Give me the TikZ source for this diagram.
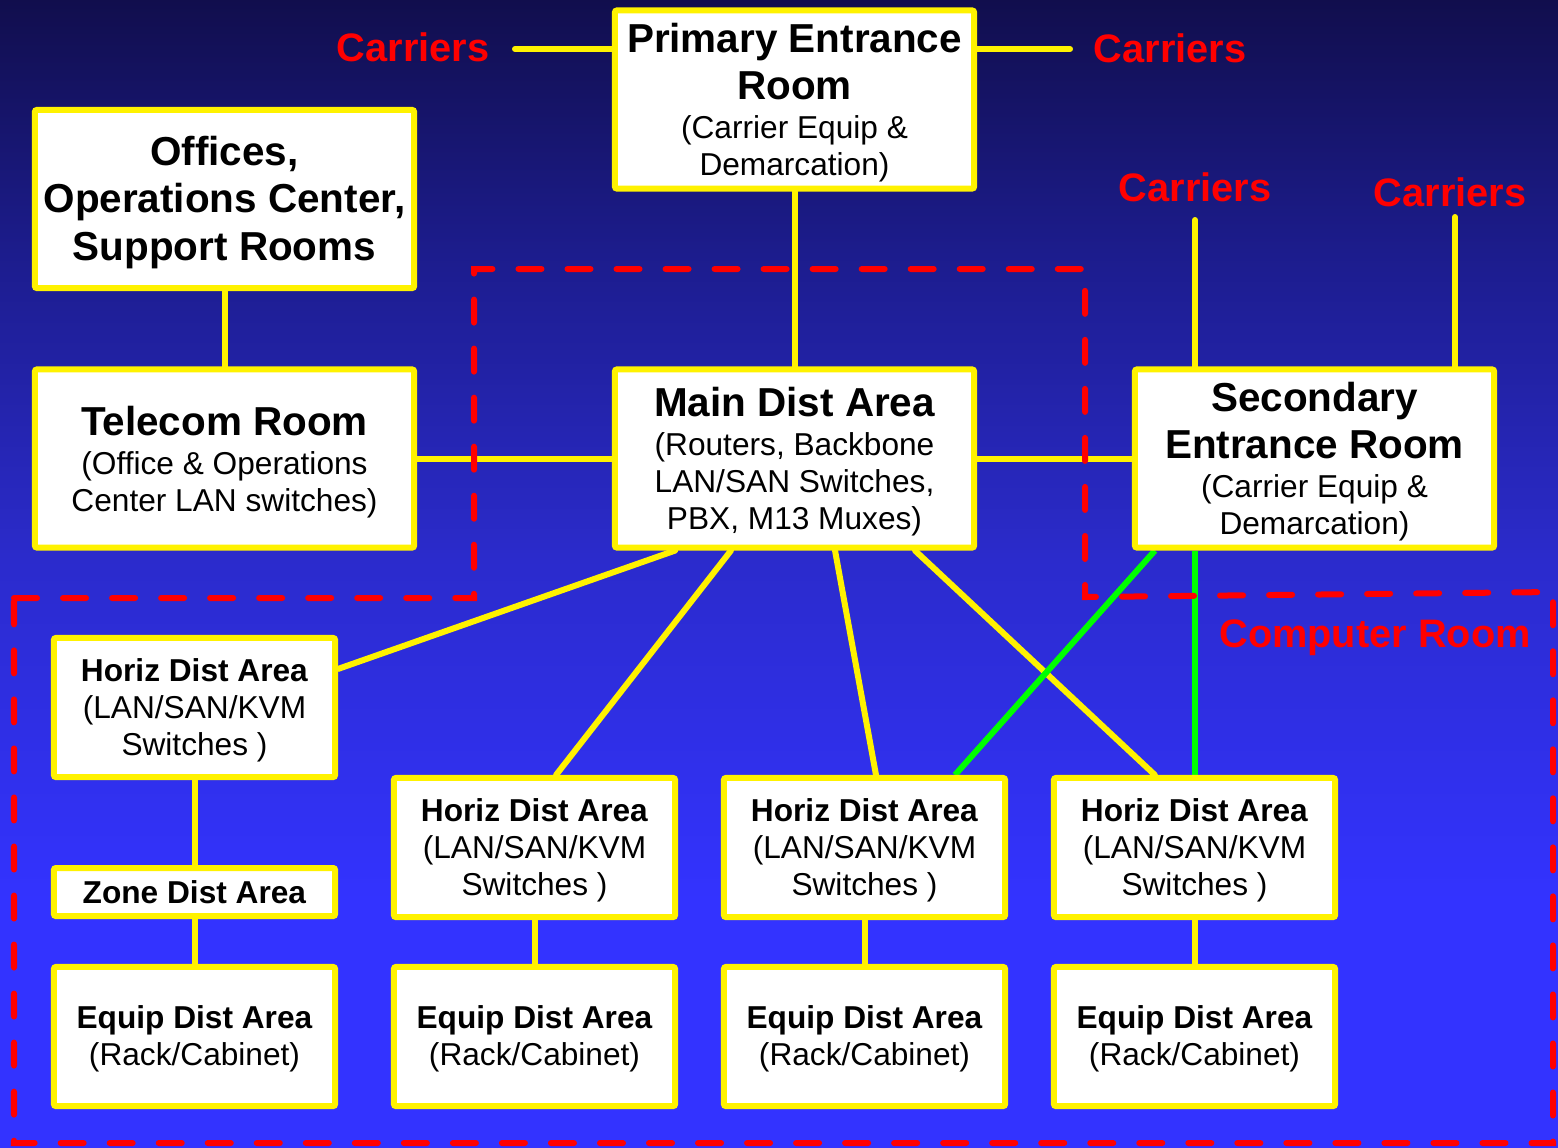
\documentclass[tikz,border=0pt]{standalone}
\usepackage{fontspec}
\setmainfont{Liberation Sans}
\usetikzlibrary{calc,backgrounds}

\definecolor{bgtop}{RGB}{17,14,77}
\definecolor{bgupper}{RGB}{28,28,140}
\definecolor{bgmid}{RGB}{43,43,204}
\definecolor{bgbot}{RGB}{51,51,255}
\pgfdeclareverticalshading{roomshade}{100bp}{color(0bp)=(bgbot); color(25bp)=(bgbot); color(35.8bp)=(bgbot); color(50.6bp)=(bgmid); color(64.1bp)=(bgupper); color(75bp)=(bgtop); color(100bp)=(bgtop)}

\newcommand{\titlef}{\fontsize{11.5}{13.7}\selectfont\bfseries}
\newcommand{\subf}{\fontsize{9}{10.5}\selectfont}
\newcommand{\carrf}{\fontsize{11.3}{13}\selectfont\bfseries}
\newcommand{\topstrut}{\rule{0pt}{.88em}}

\begin{document}
\begin{tikzpicture}[x=0.01cm, y=-0.01cm]
			\tikzstyle{area} = [draw=yellow, fill=white, line width=0.06cm, rounded corners=0.02cm, align=center, inner sep=0pt, font=\subf]
			\tikzstyle{big} = [area, minimum width=3.59cm, minimum height=1.78cm]
			\tikzstyle{wide} = [area, minimum width=3.79cm, minimum height=1.78cm]
			\tikzstyle{small} = [area, minimum width=2.81cm, minimum height=1.39cm]
			\tikzstyle{carrier} = [text=red, font=\carrf, inner sep=0pt]
			\tikzstyle{link} = [yellow, line width=0.06cm, line cap=round]
			\tikzstyle{glink} = [green, line width=0.06cm]
			\tikzstyle{zone} = [red, line width=0.06cm, dash pattern=on 0.23cm off 0.26cm, line cap=round]

			\useasboundingbox (0,0) rectangle (1558,1147);

			% rooms
			\path
			node[big] (per) at (794.5,99.5) {{\titlef\topstrut Primary Entrance}\\[3pt]{\titlef Room}\\[0.6pt](Carrier Equip \&\\Demarcation)}
			node[wide] (off) at (224.5,199) {{\titlef\topstrut Offices,}\\[3pt]{\titlef Operations Center,}\\[3pt]{\titlef Support Rooms}}
			node[wide] (tel) at (224.5,458.5) {{\titlef\topstrut Telecom Room}\\[0.6pt](Office \& Operations\\Center LAN switches)}
			node[big] (mda) at (794.5,458.5) {{\titlef\topstrut Main Dist Area}\\[0.6pt](Routers, Backbone\\LAN/SAN Switches,\\PBX, M13 Muxes)}
			node[big] (ser) at (1314.5,458.5) {{\titlef\topstrut Secondary}\\[3pt]{\titlef Entrance Room}\\[0.6pt](Carrier Equip \&\\Demarcation)}

			node[small] (hda1) at (194.5,707.5) {\textbf{\topstrut Horiz Dist Area}\\(LAN/SAN/KVM\\Switches )}
			node[area, minimum width=2.81cm, minimum height=0.48cm] (zda) at (194.5,892) {\textbf{Zone Dist Area}}
			node[small] (hda2) at (534.5,847.5) {\textbf{\topstrut Horiz Dist Area}\\(LAN/SAN/KVM\\Switches )}
			node[small] (hda3) at (864.5,847.5) {\textbf{\topstrut Horiz Dist Area}\\(LAN/SAN/KVM\\Switches )}
			node[small] (hda4) at (1194.5,847.5) {\textbf{\topstrut Horiz Dist Area}\\(LAN/SAN/KVM\\Switches )}

			node[small] (eda1) at (194.5,1036.5) {\textbf{\topstrut Equip Dist Area}\\(Rack/Cabinet)}
			node[small] (eda2) at (534.5,1036.5) {\textbf{\topstrut Equip Dist Area}\\(Rack/Cabinet)}
			node[small] (eda3) at (864.5,1036.5) {\textbf{\topstrut Equip Dist Area}\\(Rack/Cabinet)}
			node[small] (eda4) at (1194.5,1036.5) {\textbf{\topstrut Equip Dist Area}\\(Rack/Cabinet)}

			node[carrier] (carl) at (413,47) {Carriers}
			node[carrier] (carr) at (1170,48) {Carriers}
			node[carrier] (car3) at (1195,187) {Carriers}
			node[carrier] (car4) at (1450,192) {Carriers}
			node[carrier, anchor=base] (comp) at (1375,647) {Computer Room}
			;

			\coordinate (cl) at (515,49);
			\coordinate (cr) at (1070,49);
			\coordinate (c3) at (1195,220);
			\coordinate (c4) at (1455,217);

			\begin{scope}[on background layer]
			\shade[shading=roomshade] (0,0) rectangle (1558,1147);

			\path[link]
			(cl) edge (cl -| per.west)
			(cr) edge (cr -| per.east)
			(c3) edge (c3 |- ser.north)
			(c4) edge (c4 |- ser.north)

			(per.south) edge (mda.north)
			(off.south) edge (tel.north)
			(tel.east) edge (mda.west)
			(mda.east) edge (ser.west)

			($(mda.south west)!.173!(mda.south east)$) edge ($(hda1.north east)!.234!(hda1.south east)$)
			($(mda.south west)!.326!(mda.south east)$) edge ($(hda2.north west)!.575!(hda2.north east)$)
			($(mda.south west)!.611!(mda.south east)$) edge ($(hda3.north west)!.54!(hda3.north east)$)
			($(mda.south west)!.83!(mda.south east)$) edge ($(hda4.north west)!.362!(hda4.north east)$)

			(hda1.south) edge (zda.north)
			(zda.south) edge (eda1.north)
			(hda2.south) edge (eda2.north)
			(hda3.south) edge (eda3.north)
			(hda4.south) edge (eda4.north)
			;

			\path[glink]
			($(ser.south west)!.063!(ser.south east)$) edge ($(hda3.north west)!.815!(hda3.north east)$)
			(c3 |- ser.south) edge (c3 |- hda4.north)
			;

			% main dist area and computer room outline
			\draw[zone] (14,598) -- (474,598) -- (474,269) -- (1085,269) -- (1085,597) -- (1553,592) -- (1553,1143) -- (14,1143) -- cycle;
			\end{scope}

\end{tikzpicture}
\end{document}
